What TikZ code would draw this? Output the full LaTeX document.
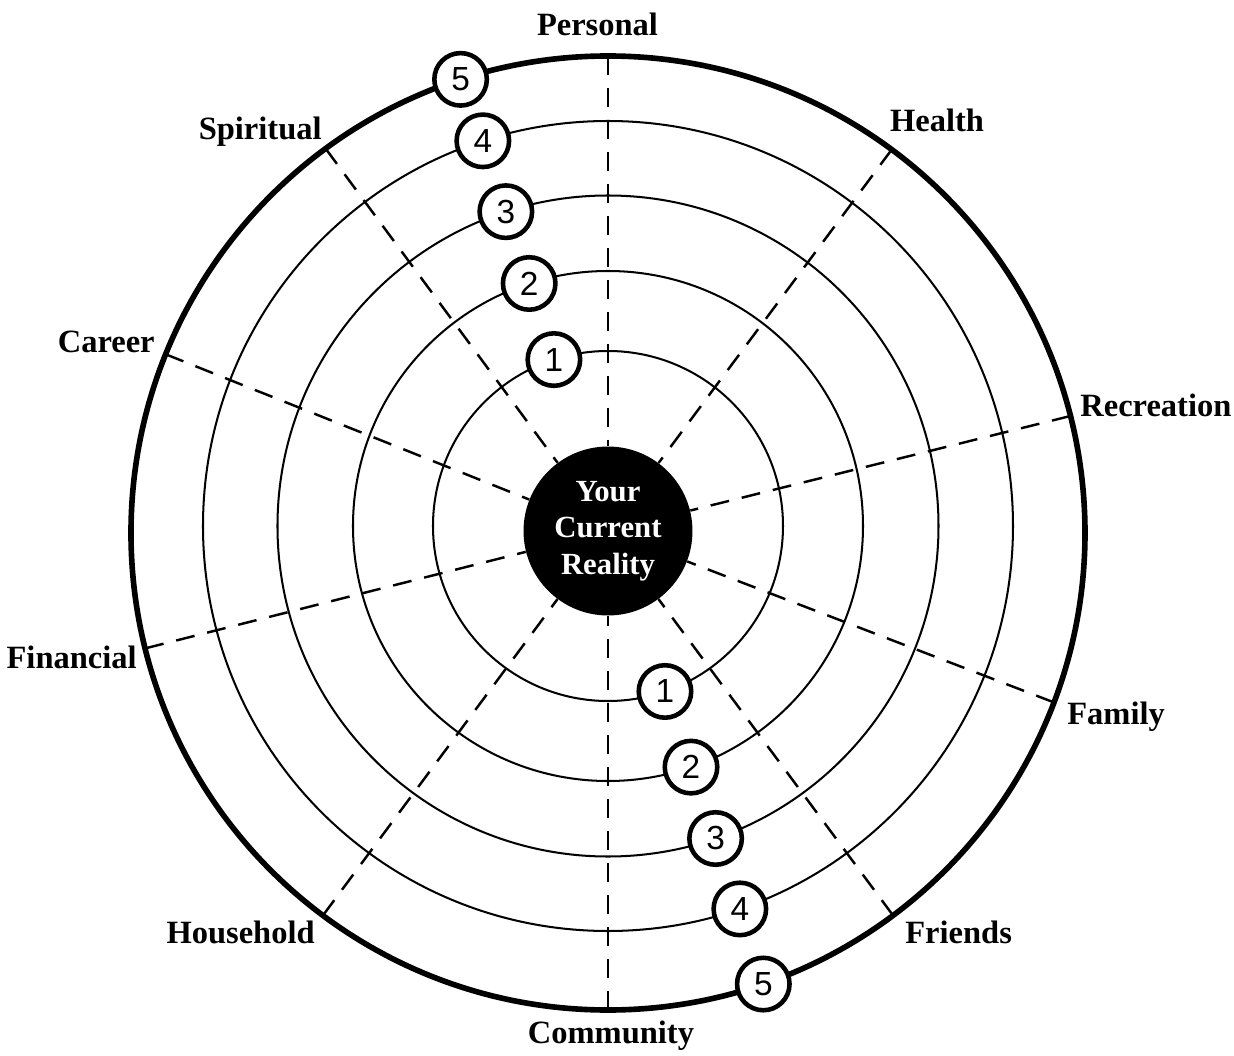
\documentclass[tikz,border=0pt]{standalone}
\usepackage{fontspec}
\setmainfont{Liberation Serif}
\newfontfamily\digitfont{Liberation Sans}
\begin{document}
\begin{tikzpicture}[x=0.02cm,y=0.02cm,
    ring/.style={line width=1.15pt},
    rim/.style={line width=3.2pt},
    spoke/.style={line width=1.4pt, dash pattern=on 10.8pt off 7.4pt},
    badge/.style={circle, draw, fill=white, line width=2.6pt, minimum size=1.05cm,
      inner sep=0pt, font=\digitfont\fontsize{19}{20}\selectfont},
    area/.style={font=\bfseries\fontsize{18.5}{21}\selectfont, inner sep=0pt},
    hubnode/.style={circle, fill=black, minimum size=3.38cm, inner sep=0pt, text=white,
      align=center, font=\bfseries\fontsize{17.5}{20.7}\selectfont}]
  \useasboundingbox (-608,-525) rectangle (626,530);
  \coordinate (ringc) at (0,4);
  \coordinate (rimc) at (0,-3);
  \foreach \r in {175,255,330.5,405} {
    \draw[ring] (ringc) circle (\r);
  }
  \draw[rim] (rimc) circle (477);
  \node[hubnode] (hub) at (0,-1) {Your\\Current\\Reality};
  \foreach \name/\ang in {personal/90,health/53.5,recreation/14.2,family/-20.8,friends/-53.3,
      community/-90,household/233.3,financial/194,career/158,spiritual/126.3} {
    \coordinate (\name) at ([shift={(\ang:477)}]rimc);
    \draw[spoke] (\name) -- (hub);
  }
  \foreach \n/\r in {1/175,2/255,3/330.5,4/405} {
    \node[badge] (up\n) at ([shift={(108:\r)}]ringc) {\n};
    \node[badge] (dn\n) at ([shift={(-71:\r)}]ringc) {\n};
  }
  \node[badge] (up5) at ([shift={(108:477)}]rimc) {5};
  \node[badge] (dn5) at ([shift={(-71:477)}]rimc) {5};
  \node[area, anchor=base] (personal-l) at (-10.5,494) {Personal};
  \node[area, anchor=base] (health-l) at (329,398) {Health};
  \node[area, anchor=base west] (recreation-l) at (472,113) {Recreation};
  \node[area, anchor=base west] (family-l) at (459,-194) {Family};
  \node[area, anchor=base west] (friends-l) at (297,-413) {Friends};
  \node[area, anchor=base] (community-l) at (3,-513) {Community};
  \node[area, anchor=base east] (household-l) at (-293,-413) {Household};
  \node[area, anchor=base east] (financial-l) at (-471,-138) {Financial};
  \node[area, anchor=base east] (career-l) at (-453,177) {Career};
  \node[area, anchor=base east] (spiritual-l) at (-286,390) {Spiritual};
\end{tikzpicture}
\end{document}
